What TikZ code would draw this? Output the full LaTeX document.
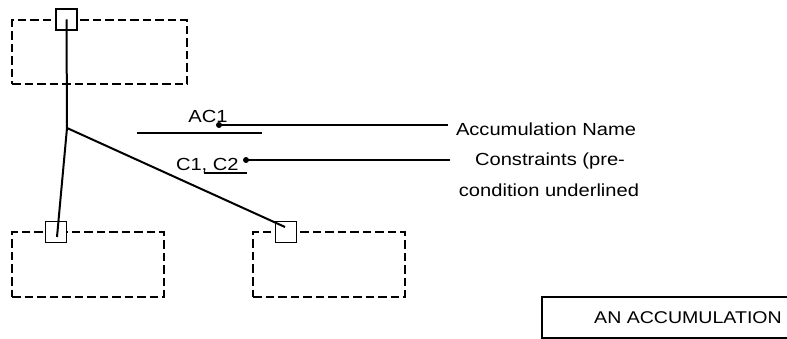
\documentclass[tikz,border=0pt]{standalone}
\usepackage{fontspec}
\setmainfont{Liberation Sans}[FakeStretch=1.15]
\begin{document}
\begin{tikzpicture}[x=1pt,y=-1pt,
  line width=2pt,
  every node/.style={font=\fontsize{17.5}{21}\selectfont},
  actbox/.style={draw,dashed,dash pattern=on 8.5pt off 4pt,line width=2pt,
    minimum width=#1,minimum height=64pt,inner sep=0pt},
  actbox/.default=175pt,
  port/.style={draw,fill=white,minimum size=21pt,inner sep=0pt,line width=1.8pt},
  lead/.style={line width=2pt},
  tip/.style={fill,circle,inner sep=0pt,minimum size=6pt},
  legend/.style={anchor=west,inner sep=0pt}]
\useasboundingbox (0,0) rectangle (787,339);

% activity boxes
\node[actbox=175pt] (topbox) at (99.5,52.5) {};
\node[actbox=152pt] (leftbox) at (88,264.5) {};
\node[actbox=152pt] (rightbox) at (329,264.5) {};

% ports on the boxes
\node[port] (portT) at (66.5,19.5) {};
\node[port] (portL) at (56,232) {};
\node[port] (portR) at (286,232) {};

% accumulation junction
\coordinate (j) at (67,128);
\coordinate (endL) at (57,237);
\coordinate (endR) at (285,227);
\draw (portT.center) -- (j);
\draw (j) -- (endL);
\draw (j) -- (endR);

% accumulation name and constraints
\node (ac) at (208,116) {AC1};
\draw (137,133) -- (262,133);
\node[anchor=base west,inner sep=0pt] (cc) at (175,171) {C1, C2};
\draw (204,173.5) -- (247,173.5);

% leaders to the legend
\node[tip] (dotA) at (219,125) {};
\node[tip] (dotC) at (246,160) {};
\coordinate (leadA) at (448,125);
\coordinate (leadC) at (450,160);
\draw[lead] (dotA.center) -- (leadA);
\draw[lead] (dotC.center) -- (leadC);

\node[legend] (nameLbl) at (455,129) {Accumulation Name};
\node[anchor=center,inner sep=0pt] (consLbl) at (550,161) {Constraints (pre-};
\node[anchor=center,inner sep=0pt] (consLbl2) at (549,190) {condition underlined};

% caption box
\draw (542,297) rectangle (800,338);
\node[font=\fontsize{17}{20}\selectfont] (caption) at (688,318) {AN ACCUMULATION};
\end{tikzpicture}
\end{document}
